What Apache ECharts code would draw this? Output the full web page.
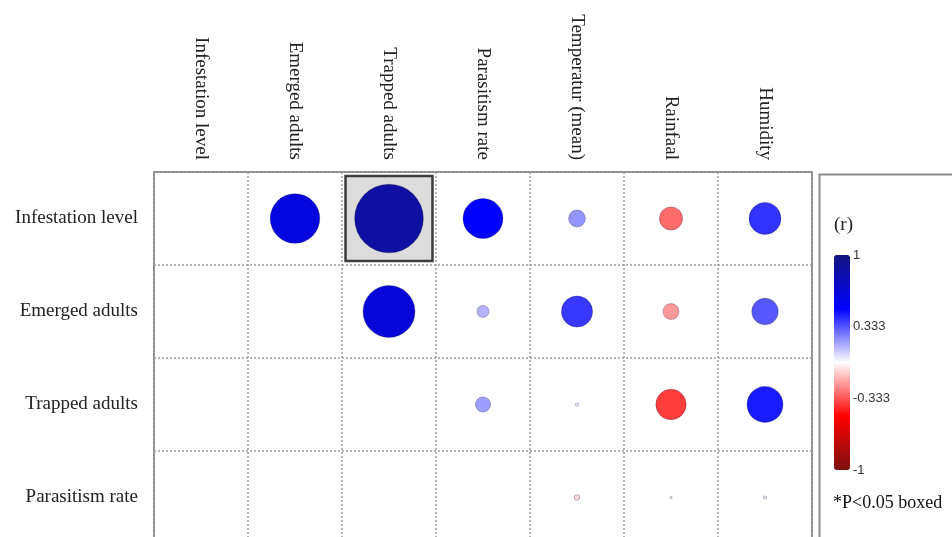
<!DOCTYPE html>
<html>
<head>
<meta charset="utf-8">
<script src="https://cdn.jsdelivr.net/npm/echarts@6/dist/echarts.min.js"></script>
<style>
html,body{margin:0;padding:0;background:#fff;}
#chart{width:952px;height:537px;}
</style>
</head>
<body>
<div id="chart"></div>
<script>
// ---- data ----
const rowLabels = ['Infestation level', 'Emerged adults', 'Trapped adults', 'Parasitism rate'];
const colLabels = ['Infestation level', 'Emerged adults', 'Trapped adults', 'Parasitism rate', 'Temperatur (mean)', 'Rainfaal', 'Humidity'];
const rInfestation = [null, 0.62, 0.86, 0.50, 0.21, -0.29, 0.40];
const rEmerged     = [null, null, 0.65, 0.15, 0.39, -0.20, 0.33];
const rTrapped     = [null, null, null, 0.19, 0.04, -0.38, 0.45];
const rParasitism  = [null, null, null, null, -0.07, 0.03, 0.04];
const significantPairs = [['Infestation level', 'Trapped adults']]; // [row, column]
const colorbarTicks = [1, 0.333, -0.333, -1];
const colorbarText = ['1', '0.333', '-0.333', '-1'];

// ---- build ----
const rowsR = [rInfestation, rEmerged, rTrapped, rParasitism];
const circleData = [];
rowsR.forEach((vals, i) => {
  vals.forEach((v, j) => {
    if (v !== null) circleData.push([colLabels[j], rowLabels[i], v]);
  });
});
const boxData = significantPairs.map(p => {
  const i = rowLabels.indexOf(p[0]);
  const j = colLabels.indexOf(p[1]);
  return [p[1], p[0], rowsR[i][j]];
});

const gridLeft = 154, gridTop = 172, gridW = 658, gridH = 372;
const cellW = gridW / colLabels.length;
const serif = 'Liberation Serif';

const chart = echarts.init(document.getElementById('chart'));
chart.setOption({
  backgroundColor: '#ffffff',
  animation: false,
  grid: [
    {left: gridLeft, top: gridTop, width: gridW, height: gridH, show: true,
     borderColor: '#8c8c8c', borderWidth: 2, backgroundColor: '#fff', containLabel: false,
     outerBoundsMode: 'none'},
    {left: 834, top: 255, width: 16, height: 215, show: false, outerBoundsMode: 'none'}
  ],
  xAxis: [
    {type: 'category', gridIndex: 0, data: colLabels, position: 'top', boundaryGap: true,
     axisLine: {show: false}, axisTick: {show: false},
     splitLine: {show: true, lineStyle: {color: '#9a9a9a', type: [2, 2], width: 1.5}},
     axisLabel: {rotate: 90, margin: 12, fontFamily: serif, fontSize: 19, color: '#222'}},
    {type: 'value', gridIndex: 1, show: false, min: 0, max: 1}
  ],
  yAxis: [
    {type: 'category', gridIndex: 0, data: rowLabels, inverse: true, boundaryGap: true,
     axisLine: {show: false}, axisTick: {show: false},
     splitLine: {show: true, lineStyle: {color: '#9a9a9a', type: [2, 2], width: 1.5}},
     axisLabel: {margin: 16, fontFamily: serif, fontSize: 19, color: '#222'}},
    {type: 'value', gridIndex: 1, min: -1, max: 1, position: 'right',
     axisLine: {show: false}, axisTick: {show: false}, splitLine: {show: false},
     axisLabel: {show: true, margin: 3, fontFamily: 'Liberation Sans', fontSize: 13, color: '#333',
       customValues: colorbarTicks, verticalAlign: 'middle', padding: [6, 0, 0, 0],
       formatter: v => colorbarText[colorbarTicks.indexOf(v)] !== undefined ? colorbarText[colorbarTicks.indexOf(v)] : ''}}
  ],
  visualMap: {
    type: 'continuous', seriesIndex: 0, dimension: 2, min: -1, max: 1,
    left: 834, top: 255, itemWidth: 16, itemHeight: 215, padding: 0,
    calculable: false, hoverLink: false, text: null, showLabel: false,
    inRange: {color: ['#7B1111', '#FF0000', '#FFFFFF', '#0000FF', '#15157E']}
  },
  series: [
    {type: 'scatter', xAxisIndex: 0, yAxisIndex: 0, z: 3, data: circleData,
     symbol: 'circle',
     symbolSize: v => Math.max(2, cellW * 0.85 * Math.abs(v[2])),
     itemStyle: {opacity: 1, borderColor: 'rgba(0,0,30,0.25)', borderWidth: 1}},
    {type: 'scatter', xAxisIndex: 0, yAxisIndex: 0, z: 2, data: boxData,
     symbol: 'rect', symbolSize: [87, 85],
     itemStyle: {color: '#d3d3d3', borderColor: '#111', borderWidth: 2.5}}
  ],
  graphic: [
    {type: 'rect', left: 817, top: 172, shape: {width: 200, height: 400},
     style: {fill: 'none', stroke: '#8c8c8c', lineWidth: 2}, z: 10},
    {type: 'text', left: 834, top: 216, style: {text: '(r)', font: '19px "Liberation Serif"', fill: '#222'}},
    {type: 'text', left: 833, top: 494, style: {text: '*P<0.05 boxed', font: '18px "Liberation Serif"', fill: '#111'}}
  ]
});
</script>
</body>
</html>
